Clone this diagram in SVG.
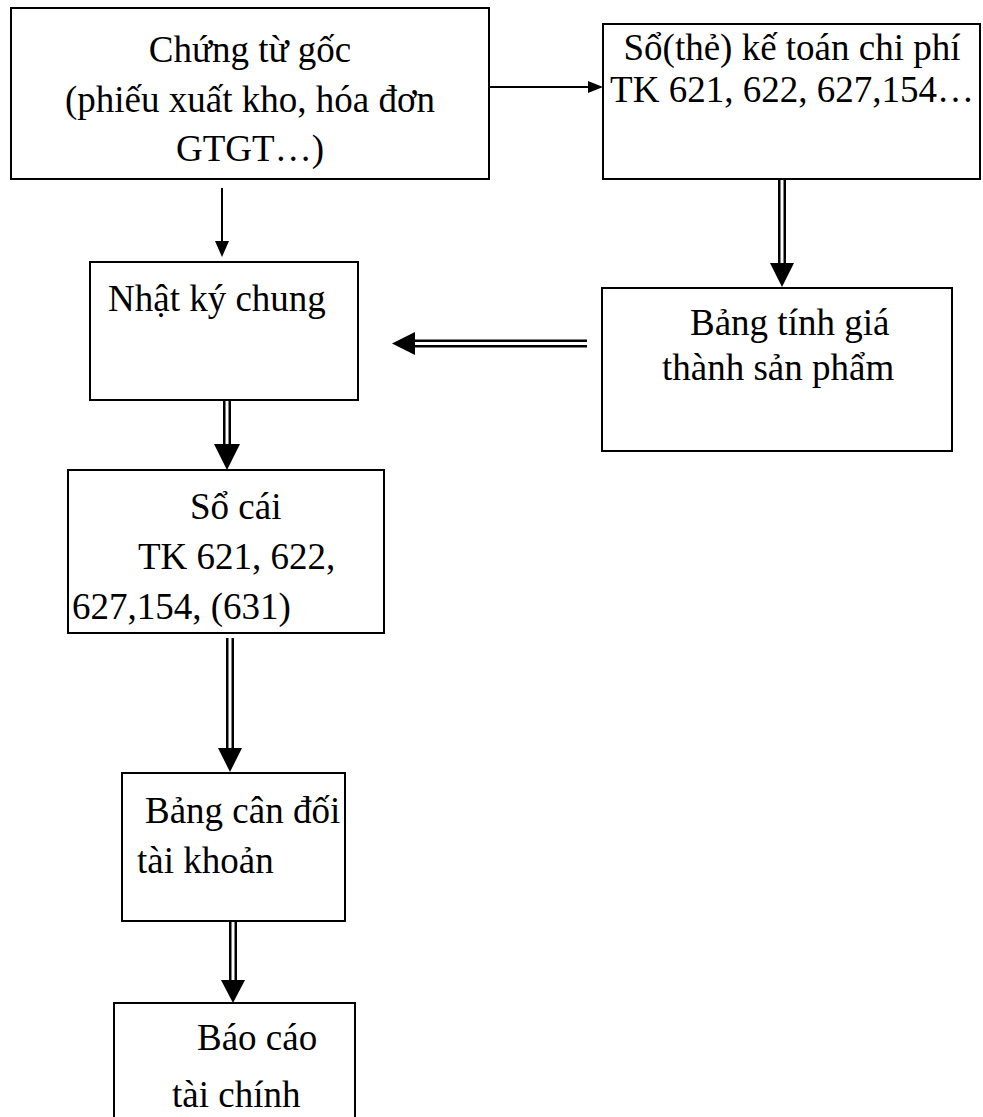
<svg xmlns="http://www.w3.org/2000/svg" width="983" height="1117" viewBox="0 0 983 1117">
<style>
.box{fill:#fff;stroke:#000;stroke-width:2}
.t{font-family:"Liberation Serif","Times New Roman",serif;font-size:37px;fill:#000}
.c{text-anchor:middle}
.ln{stroke:#000;stroke-width:2;fill:none}
.dl{stroke:#000;stroke-width:2.5;fill:none}
.hd{fill:#000;stroke:none}
</style>
<rect width="983" height="1117" fill="#fff"/>
<g id="n1">
<rect class="box" x="11" y="8" width="478" height="171"/>
<text class="t c" x="250" y="62">Chứng từ gốc</text>
<text class="t c" x="250" y="112">(phiếu xuất kho, hóa đơn</text>
<text class="t c" x="250" y="161">GTGT…)</text>
</g>
<g id="n2">
<rect class="box" x="603" y="24" width="377" height="155"/>
<text class="t c" x="792" y="60">Sổ(thẻ) kế toán chi phí</text>
<text class="t c" x="792" y="102">TK 621, 622, 627,154…</text>
</g>
<g id="n3">
<rect class="box" x="90" y="262" width="268" height="138"/>
<text class="t" x="108" y="311">Nhật ký chung</text>
</g>
<g id="n4">
<rect class="box" x="602" y="288" width="350" height="163"/>
<text class="t" x="690" y="335">Bảng tính giá</text>
<text class="t" x="662" y="380">thành sản phẩm</text>
</g>
<g id="n5">
<rect class="box" x="68" y="470" width="316" height="163"/>
<text class="t" x="190" y="519">Sổ cái</text>
<text class="t" x="138" y="569">TK 621, 622,</text>
<text class="t" x="72" y="619">627,154, (631)</text>
</g>
<g id="n6">
<rect class="box" x="122" y="773" width="223" height="148"/>
<text class="t" x="145" y="823">Bảng cân đối</text>
<text class="t" x="137" y="873">tài khoản</text>
</g>
<g id="n7">
<rect class="box" x="114" y="1003" width="241" height="130"/>
<text class="t" x="197" y="1050">Báo cáo</text>
<text class="t" x="172" y="1107">tài chính</text>
</g>
<g id="connectors">
<line class="ln" x1="489" y1="87" x2="590" y2="87"/>
<polygon class="hd" points="603,87 588,81 588,93"/>
<line class="ln" x1="222" y1="188" x2="222" y2="243"/>
<polygon class="hd" points="222,257 215,241 229,241"/>
<line class="dl" x1="779.25" y1="180" x2="779.25" y2="265"/>
<line class="dl" x1="784.75" y1="180" x2="784.75" y2="265"/>
<polygon class="hd" points="782,287 770,263 794,263"/>
<line class="dl" x1="587" y1="340.75" x2="412" y2="340.75"/>
<line class="dl" x1="587" y1="346.25" x2="412" y2="346.25"/>
<polygon class="hd" points="392,343.5 415,332 415,355"/>
<line class="dl" x1="224.25" y1="401" x2="224.25" y2="448"/>
<line class="dl" x1="229.75" y1="401" x2="229.75" y2="448"/>
<polygon class="hd" points="227,470 214,444 240,444"/>
<line class="dl" x1="227.25" y1="638" x2="227.25" y2="750"/>
<line class="dl" x1="232.75" y1="638" x2="232.75" y2="750"/>
<polygon class="hd" points="230,772 218,748 242,748"/>
<line class="dl" x1="230.25" y1="922" x2="230.25" y2="982"/>
<line class="dl" x1="235.75" y1="922" x2="235.75" y2="982"/>
<polygon class="hd" points="233,1003 221,980 245,980"/>
</g>
</svg>
